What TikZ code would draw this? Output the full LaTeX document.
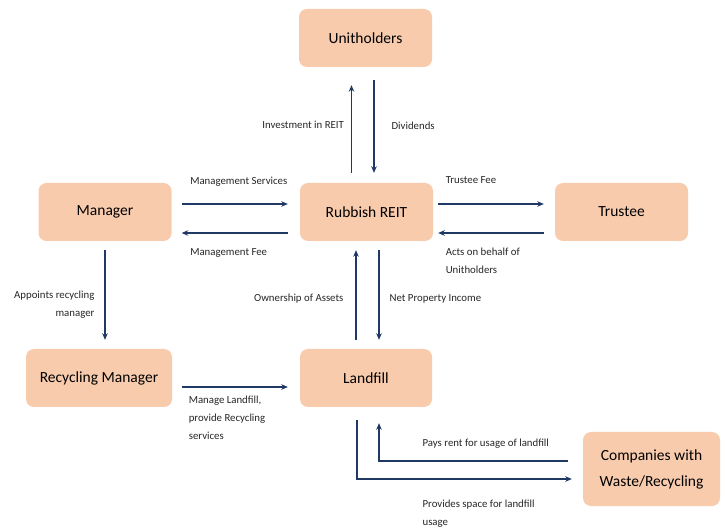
\documentclass[tikz,border=0pt]{standalone}
\usepackage{fontspec}
\setmainfont{Carlito}
\usepackage{tikz}
\usetikzlibrary{arrows.meta, calc}
\definecolor{peach}{HTML}{F8CBAD}
\definecolor{navy}{HTML}{203864}
\definecolor{txt}{HTML}{262626}

\begin{document}
\begin{tikzpicture}[x=1pt, y=1pt,
  box/.style={fill=peach, rounded corners=8pt, minimum width=133pt, minimum height=58pt, inner sep=0pt, text=black, font=\fontsize{15.5}{18}\selectfont, align=center},
  flow/.style={-{Stealth[length=6.5pt, width=5.5pt]}, navy, line width=1.2pt},
  lbl/.style={inner sep=0pt, text=txt, font=\fontsize{10.8}{18}\selectfont}]

  \useasboundingbox (0,0) rectangle (725,530);

  \node[box] (unit) at (365.5,492) {Unitholders};
  \node[box] (mgr) at (105,318) {Manager};
  \node[box] (reit) at (366.5,318) {Rubbish REIT};
  \node[box] (trus) at (621.5,318) {Trustee};
  \node[box, minimum width=146pt] (rm) at (99,152) {Recycling Manager};
  \node[box, minimum width=132pt] (land) at (366,152) {Landfill};
  \node[box, minimum width=137pt, minimum height=74pt, font=\fontsize{15.5}{26}\selectfont] (comp) at (651.5,61) {Companies with\\Waste/Recycling};

  % REIT and unitholders
  \draw[flow] ($(reit.north)+(-15,10)$) -- ($(unit.south)+(-14,-18)$) node[lbl, pos=0.55, left=7pt] (inv) {Investment in REIT};
  \draw[flow] ($(unit.south)+(8.5,-13)$) -- ($(reit.north)+(7.5,10)$) node[lbl, midway, right=17pt, yshift=1pt] (div) {Dividends};

  % manager and trustee
  \draw[flow] ($(mgr.east)+(10,8)$) -- ($(reit.west)+(-12,8)$) node[lbl, pos=0, anchor=base west, xshift=8pt, yshift=19pt] (ms) {Management Services};
  \draw[flow] ($(reit.west)+(-12,-21)$) -- ($(mgr.east)+(10,-21)$) node[lbl, pos=1, anchor=base west, xshift=8pt, yshift=-23pt] (mf) {Management Fee};
  \draw[flow] ($(reit.east)+(5,8)$) -- ($(trus.west)+(-11,8)$) node[lbl, pos=0, anchor=base west, xshift=7pt, yshift=20pt] (tf) {Trustee Fee};
  \draw[flow] ($(trus.west)+(-11,-21)$) -- ($(reit.east)+(5,-21)$) node[lbl, pos=1, anchor=north west, xshift=7pt, yshift=-14pt, align=left] (acts) {Acts on behalf of\\Unitholders};

  % middle row
  \draw[flow] ($(mgr.south)+(0,-9)$) -- ($(mgr.south |- rm.north)+(0,9)$) node[lbl, midway, left=10pt, yshift=-10pt, align=right] (apt) {Appoints recycling\\manager};
  \draw[flow] ($(land.north)+(-10,9)$) -- ($(land.north |- reit.south)+(-10,-9)$) node[lbl, midway, left=12pt, yshift=-4pt] (own) {Ownership of Assets};
  \draw[flow] ($(reit.south)+(12.5,-9)$) -- ($(reit.south |- land.north)+(12.5,9)$) node[lbl, midway, right=10pt, yshift=-4pt] (npi) {Net Property Income};
  \draw[flow] ($(rm.east)+(10,-9)$) -- ($(land.west)+(-12,-9)$) node[lbl, pos=0, anchor=north west, xshift=6pt, yshift=-8pt, align=left] (mlf) {Manage Landfill,\\provide Recycling\\services};

  % landfill users
  \draw[flow] ($(comp.west)+(-15,8)$) -| ($(land.south)+(13,-16)$) node[lbl, pos=0.5, anchor=base west, xshift=43pt, yshift=15pt] (rent) {Pays rent for usage of landfill};
  \draw[flow] ($(land.south)+(-9,-13)$) |- ($(comp.west)+(-11,-10)$) node[lbl, pos=0.5, anchor=north west, xshift=65pt, yshift=-20pt, align=left] (space) {Provides space for landfill\\usage};
\end{tikzpicture}
\end{document}
